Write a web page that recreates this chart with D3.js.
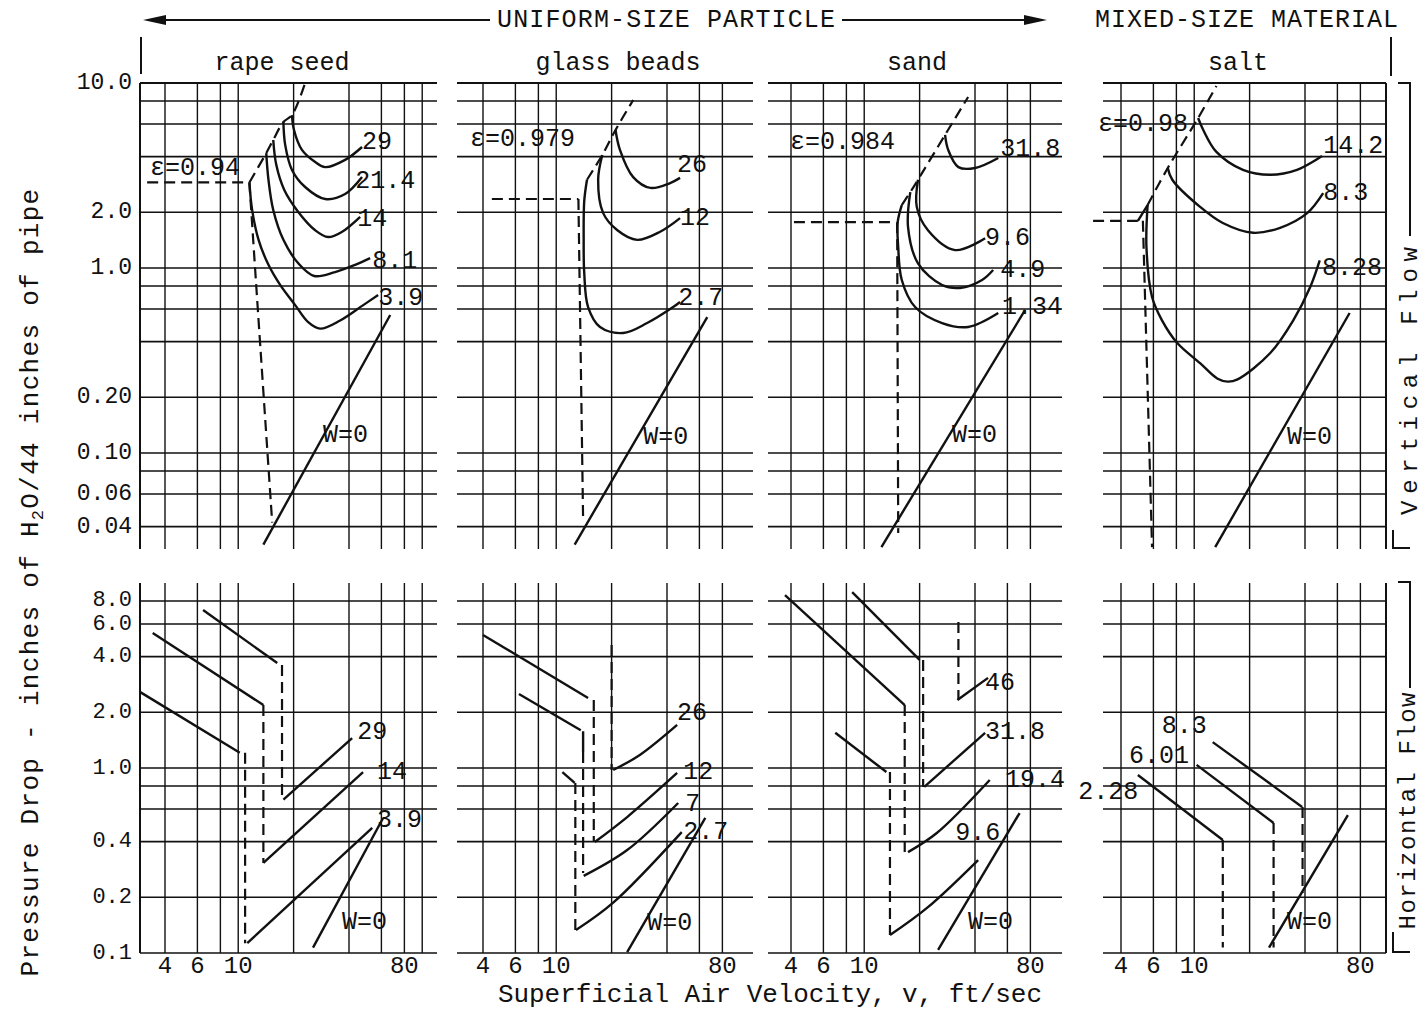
<!DOCTYPE html>
<html><head><meta charset="utf-8">
<script src="https://cdn.jsdelivr.net/npm/d3@7/dist/d3.min.js"></script>
<style>
html,body{margin:0;padding:0;background:#fff;}
svg text{font-family:"Liberation Mono","DejaVu Sans Mono",monospace;fill:#111;}
</style></head>
<body><svg id="chart" width="1424" height="1017"></svg>
<script>
// ---------------- categories & axis values ----------------
const materials = ["rape seed", "glass beads", "sand", "salt"];
const xTickValues = [4, 6, 10, 80];
const xGridValues = [4, 6, 8, 10, 20, 40, 60, 80];
const vertTickValues = [10, 2, 1, 0.2, 0.1, 0.06, 0.04];
const vertTickLabels = ["10.0", "2.0", "1.0", "0.20", "0.10", "0.06", "0.04"];
const horizTickValues = [8, 6, 4, 2, 1, 0.4, 0.2, 0.1];
const horizTickLabels = ["8.0", "6.0", "4.0", "2.0", "1.0", "0.4", "0.2", "0.1"];
const vertGridValues = [10, 8, 6, 4, 2, 1, 0.8, 0.6, 0.4, 0.2, 0.1, 0.08, 0.06, 0.04];
const horizGridValues = [8, 6, 4, 2, 1, 0.8, 0.6, 0.4, 0.2, 0.1];

// ---------------- series: [velocity ft/s, pressure drop] ----------------
// kind "loading" = solid W curve, "boundary" = dashed transition / choking line
const rapeSeedVertical = [
  {kind:"loading", w:"29",   pts:[[19.6,6.71],[20.1,5.57],[22.2,4.35],[26.2,3.74],[29.7,3.51],[38.1,3.84],[47.1,4.51]]},
  {kind:"loading", w:"21.4", pts:[[17.6,6.16],[18.0,4.63],[19.6,3.39],[23.1,2.74],[29.7,2.36],[38.1,2.51],[47.1,3.10]]},
  {kind:"loading", w:"14",   pts:[[15.5,4.92],[16.1,3.61],[17.8,2.64],[21.2,2.01],[26.2,1.60],[30.8,1.47],[36.7,1.57],[46.0,1.89]]},
  {kind:"loading", w:"8.1",  pts:[[14.2,4.18],[14.6,3.0],[15.5,2.06],[17.6,1.42],[21.2,1.06],[25.9,0.905],[33.6,0.951],[43.2,1.04],[52.1,1.13]]},
  {kind:"loading", w:"3.9",  pts:[[11.5,2.9],[11.9,2.06],[12.9,1.42],[14.6,1.04],[16.9,0.81],[20.4,0.63],[24.0,0.51],[27.9,0.47],[35.8,0.52],[47.8,0.63],[57.6,0.715]]},
  {kind:"loading", w:"0",    pts:[[13.7,0.032],[67,0.557]]},
  {kind:"boundary", pts:[[11.5,2.9],[14.2,4.18],[15.5,4.92],[17.6,6.16],[19.6,6.71],[23.1,10]]},
  {kind:"boundary", pts:[[3.2,2.9],[11.5,2.9]]},
  {kind:"boundary", pts:[[11.5,2.9],[12.5,0.83],[15.3,0.042]]}
];
const rapeSeedVerticalNotes = [
  {text:"ε=0.94", v:3.32, dp:3.47}, {text:"29", v:47.1, dp:4.79}, {text:"21.4", v:43.2, dp:2.95},
  {text:"14", v:44.3, dp:1.82}, {text:"8.1", v:53.5, dp:1.08}, {text:"3.9", v:57.6, dp:0.688},
  {text:"W=0", v:28.9, dp:0.125}
];
const rapeSeedHorizontal = [
  {kind:"loading", pts:[[2.92,2.58],[10.2,1.21]]},
  {kind:"loading", pts:[[3.43,5.37],[13.7,2.19]]},
  {kind:"loading", pts:[[6.44,7.15],[16.3,3.69]]},
  {kind:"loading", w:"3.9", pts:[[11.2,0.113],[53.5,0.474]]},
  {kind:"loading", w:"14",  pts:[[13.7,0.307],[47.7,0.951]]},
  {kind:"loading", w:"29",  pts:[[17.6,0.675],[41.6,1.45]]},
  {kind:"loading", w:"0",   pts:[[25.5,0.107],[61.3,0.537]]},
  {kind:"boundary", pts:[[10.9,1.21],[10.9,0.113]]},
  {kind:"boundary", pts:[[13.7,2.19],[13.7,0.307]]},
  {kind:"boundary", pts:[[17.3,3.6],[17.3,0.675]]}
];
const rapeSeedHorizontalNotes = [
  {text:"29", v:44.3, dp:1.55}, {text:"14", v:56.8, dp:0.951}, {text:"3.9", v:56.8, dp:0.523},
  {text:"W=0", v:36.7, dp:0.147}
];

const glassBeadsVertical = [
  {kind:"loading", w:"26",  pts:[[21.0,5.57],[22.2,4.35],[26.2,3.10],[32.5,2.71],[41.6,2.88],[47.1,3.07]]},
  {kind:"loading", w:"12",  pts:[[17.8,4.08],[16.9,3.0],[18.0,1.98],[21.5,1.60],[27.5,1.42],[36.7,1.57],[47.1,1.86]]},
  {kind:"loading", w:"2.7", pts:[[14.7,3.0],[14.2,2.3],[14.1,1.42],[14.2,0.94],[14.9,0.615],[17.3,0.48],[23.1,0.445],[31.2,0.504],[43.2,0.615],[47.1,0.655]]},
  {kind:"loading", w:"0",   pts:[[12.6,0.032],[66.2,0.543]]},
  {kind:"boundary", pts:[[14.7,3.0],[17.8,4.08],[21.0,5.57],[26.2,8.09]]},
  {kind:"boundary", pts:[[4.47,2.36],[13.2,2.36]]},
  {kind:"boundary", pts:[[13.2,2.36],[14.0,0.0436]]}
];
const glassBeadsVerticalNotes = [
  {text:"ε=0.979", v:3.40, dp:4.92}, {text:"26", v:45.4, dp:3.56}, {text:"12", v:47.1, dp:1.86},
  {text:"2.7", v:46.0, dp:0.688}, {text:"W=0", v:29.7, dp:0.122}
];
const glassBeadsHorizontal = [
  {kind:"loading", pts:[[4.0,5.24],[14.9,2.39]]},
  {kind:"loading", pts:[[6.27,2.51],[13.6,1.60]]},
  {kind:"loading", pts:[[14.0,1.58],[14.0,1.22]]},
  {kind:"loading", pts:[[10.8,0.951],[12.6,0.83]]},
  {kind:"loading", w:"26",  pts:[[20.4,0.975],[28.6,1.18],[45.4,1.71]]},
  {kind:"loading", w:"12",  pts:[[16.2,0.398],[24.3,0.543],[45.4,0.94]]},
  {kind:"loading", w:"7",   pts:[[14.1,0.261],[24.3,0.36],[46,0.647]]},
  {kind:"loading", w:"2.7", pts:[[12.8,0.133],[20.4,0.187],[48.1,0.45]]},
  {kind:"loading", w:"0",   pts:[[24.3,0.101],[64.6,0.537]]},
  {kind:"boundary", pts:[[16.0,2.33],[16.0,0.40]]},
  {kind:"boundary", pts:[[14.0,1.22],[14.0,0.271]]},
  {kind:"boundary", pts:[[12.7,0.83],[12.7,0.133]]},
  {kind:"boundary", pts:[[20,4.62],[20,0.975]]}
];
const glassBeadsHorizontalNotes = [
  {text:"26", v:45.4, dp:1.98}, {text:"12", v:49, dp:0.94}, {text:"7", v:50.2, dp:0.631},
  {text:"2.7", v:49, dp:0.45}, {text:"W=0", v:31.2, dp:0.145}
];

const sandVertical = [
  {kind:"loading", w:"31.8", pts:[[27.5,5.24],[28.6,4.35],[32.5,3.51],[40.0,3.47],[53.5,3.93]]},
  {kind:"loading", w:"9.6",  pts:[[19.6,3.0],[19.3,2.14],[22.2,1.60],[31.2,1.25],[45.4,1.45]]},
  {kind:"loading", w:"4.9",  pts:[[17.8,2.57],[17.3,1.67],[19.6,1.06],[26.5,0.809],[33.2,0.78],[43.7,0.861],[50.2,0.975]]},
  {kind:"loading", w:"1.34", pts:[[16.0,2.19],[15.2,1.77],[15.3,1.30],[16.0,0.861],[18.9,0.615],[26.5,0.504],[36.7,0.48],[53.5,0.571]]},
  {kind:"loading", w:"0",    pts:[[12.4,0.031],[74.9,0.593]]},
  {kind:"boundary", pts:[[16,2.19],[17.8,2.57],[19.6,3.0],[27.5,5.24],[36.7,8.4]]},
  {kind:"boundary", pts:[[4.15,1.77],[14.7,1.77]]},
  {kind:"boundary", pts:[[15.1,1.77],[15.3,0.037]]}
];
const sandVerticalNotes = [
  {text:"ε=0.984", v:3.95, dp:4.79}, {text:"31.8", v:54.8, dp:4.35}, {text:"9.6", v:45.4, dp:1.45},
  {text:"4.9", v:54.8, dp:0.975}, {text:"1.34", v:56.1, dp:0.608}, {text:"W=0", v:30, dp:0.125}
];
const sandHorizontal = [
  {kind:"loading", pts:[[3.71,8.61],[16.6,2.19]]},
  {kind:"loading", pts:[[8.6,8.93],[20.0,3.84]]},
  {kind:"loading", pts:[[6.96,1.55],[13.2,0.951]]},
  {kind:"loading", w:"46",   pts:[[32.1,2.33],[47.1,3.07]]},
  {kind:"loading", w:"31.8", pts:[[21.2,0.79],[45.4,1.55]]},
  {kind:"loading", w:"19.4", pts:[[17.3,0.351],[24.8,0.445],[48.1,0.861]]},
  {kind:"loading", w:"9.6",  pts:[[13.8,0.125],[22.2,0.177],[41.6,0.318]]},
  {kind:"loading", w:"0",    pts:[[25.2,0.104],[69.9,0.571]]},
  {kind:"boundary", pts:[[16.6,2.19],[16.6,0.351]]},
  {kind:"boundary", pts:[[20.9,3.84],[20.9,0.79]]},
  {kind:"boundary", pts:[[13.8,0.951],[13.8,0.125]]},
  {kind:"boundary", pts:[[32.5,6.16],[32.5,2.33]]}
];
const sandHorizontalNotes = [
  {text:"46", v:45.4, dp:2.88}, {text:"31.8", v:45.4, dp:1.55}, {text:"19.4", v:58.3, dp:0.861},
  {text:"9.6", v:31.2, dp:0.445}, {text:"W=0", v:36.7, dp:0.147}
];

const saltVertical = [
  {kind:"loading", w:"14.2", pts:[[10.5,6.47],[11.2,5.57],[13.2,4.24],[18.4,3.39],[25.9,3.19],[36.2,3.39],[49.5,4.03]]},
  {kind:"loading", w:"8.3",  pts:[[7.18,3.47],[7.6,3.0],[10.76,2.14],[14.3,1.75],[20.9,1.55],[29.3,1.65],[41.1,1.98],[50.2,2.54]]},
  {kind:"loading", w:"8.28", pts:[[5.58,2.19],[5.50,1.30],[5.90,0.697],[6.67,0.523],[8.09,0.393],[10.76,0.306],[13.4,0.252],[15.2,0.243],[17.2,0.250],[25.9,0.347],[34.6,0.523],[42.7,0.789],[48.1,1.10]]},
  {kind:"loading", pts:[[4.94,1.8],[5.58,2.19]]},
  {kind:"loading", w:"0",    pts:[[13.0,0.031],[69.9,0.571]]},
  {kind:"boundary", pts:[[5.58,2.19],[7.18,3.47],[10.5,6.47],[13.2,9.63]]},
  {kind:"boundary", pts:[[2.82,1.8],[4.94,1.8]]},
  {kind:"boundary", pts:[[5.26,1.8],[5.9,0.031]]}
];
const saltVerticalNotes = [
  {text:"ε=0.98", v:3.0, dp:5.93}, {text:"14.2", v:50.2, dp:4.51}, {text:"8.3", v:50.2, dp:2.54},
  {text:"8.28", v:49.5, dp:1.0}, {text:"W=0", v:31.9, dp:0.122}
];
const saltHorizontal = [
  {kind:"loading", w:"2.28", pts:[[4.94,0.917],[14.3,0.408]]},
  {kind:"loading", w:"6.01", pts:[[10.3,1.04],[27.0,0.504]]},
  {kind:"loading", w:"8.3",  pts:[[12.6,1.38],[38.6,0.616]]},
  {kind:"loading", w:"0",    pts:[[25.5,0.107],[68.4,0.557]]},
  {kind:"boundary", pts:[[14.3,0.408],[14.3,0.107]]},
  {kind:"boundary", pts:[[27,0.504],[27,0.107]]},
  {kind:"boundary", pts:[[38.8,0.616],[38.8,0.211]]}
];
const saltHorizontalNotes = [
  {text:"8.3", v:6.67, dp:1.67}, {text:"6.01", v:4.42, dp:1.15}, {text:"2.28", v:2.34, dp:0.733},
  {text:"W=0", v:31.9, dp:0.147}
];

// ---------------- assemble ----------------
const panelSeries = [
  {vertical:rapeSeedVertical, vNotes:rapeSeedVerticalNotes, horizontal:rapeSeedHorizontal, hNotes:rapeSeedHorizontalNotes},
  {vertical:glassBeadsVertical, vNotes:glassBeadsVerticalNotes, horizontal:glassBeadsHorizontal, hNotes:glassBeadsHorizontalNotes},
  {vertical:sandVertical, vNotes:sandVerticalNotes, horizontal:sandHorizontal, hNotes:sandHorizontalNotes},
  {vertical:saltVertical, vNotes:saltVerticalNotes, horizontal:saltHorizontal, hNotes:saltHorizontalNotes}
];

const svg = d3.select("#chart");
const ink = "#111";
const layout = [
  {x4:165,  left:-25, right:272, titleX:282,  frameLeft:true,  extraGrid:[100]},
  {x4:483,  left:-26, right:270, titleX:618},
  {x4:791,  left:-23, right:271, titleX:917},
  {x4:1121, left:-18, right:265, titleX:1238, frameRight:true}
];
const rows = {
  vertical:   {y: d3.scaleLog().domain([1,10]).range([268,83]), top:83,  bottom:549, grid:vertGridValues},
  horizontal: {y: d3.scaleLog().domain([1,10]).range([768,583]), top:583, bottom:953, grid:horizGridValues}
};
const lineGen = d3.line().curve(d3.curveCatmullRom.alpha(0.5));

layout.forEach((L, i) => {
  const xs = d3.scaleLog().domain([4,40]).range([L.x4, L.x4 + 184]);
  const x0 = L.x4 + L.left, x1 = L.x4 + L.right;
  const g = svg.append("g");
  ["vertical","horizontal"].forEach(rowKey => {
    const R = rows[rowKey];
    const gridG = g.append("g").attr("stroke", ink).attr("stroke-width", 1.6);
    gridG.selectAll(null).data(R.grid).join("line")
      .attr("x1", x0).attr("x2", x1)
      .attr("y1", d => R.y(d)).attr("y2", d => R.y(d));
    if (rowKey === "vertical") {
      gridG.append("line").attr("x1", x0).attr("x2", x1).attr("y1", R.y(10)).attr("y2", R.y(10)).attr("stroke-width", 2.2);
    }
    const vx = xGridValues.concat(L.extraGrid || []);
    gridG.selectAll(null).data(vx).join("line")
      .attr("x1", d => xs(d)).attr("x2", d => xs(d))
      .attr("y1", R.top).attr("y2", R.bottom).attr("stroke-width", 1.4);
    if (L.frameLeft) gridG.append("line").attr("x1", x0).attr("x2", x0).attr("y1", R.top).attr("y2", R.bottom).attr("stroke-width", 2);
    if (L.frameRight) gridG.append("line").attr("x1", x1).attr("x2", x1).attr("y1", R.top).attr("y2", R.bottom).attr("stroke-width", 2);

    const series = rowKey === "vertical" ? panelSeries[i].vertical : panelSeries[i].horizontal;
    g.append("g").selectAll(null).data(series).join("path")
      .attr("d", s => lineGen(s.pts.map(p => [xs(p[0]), R.y(p[1])])))
      .attr("fill", "none").attr("stroke", ink)
      .attr("stroke-width", s => s.kind === "loading" ? 2.4 : 2.2)
      .attr("stroke-dasharray", s => s.kind === "loading" ? null : "11,6")
      .attr("stroke-linecap", "butt");

    const notes = rowKey === "vertical" ? panelSeries[i].vNotes : panelSeries[i].hNotes;
    g.append("g").selectAll(null).data(notes).join("text")
      .attr("x", d => xs(d.v)).attr("y", d => R.y(d.dp))
      .attr("dominant-baseline", "central")
      .style("font-size", "25px")
      .text(d => d.text);
  });
  g.append("g").selectAll(null).data(xTickValues).join("text")
    .attr("x", d => xs(d)).attr("y", 966)
    .attr("text-anchor", "middle").attr("dominant-baseline", "central")
    .style("font-size", "24px").text(d => d);
  g.append("text").attr("x", L.titleX).attr("y", 63)
    .attr("text-anchor", "middle").attr("dominant-baseline", "central")
    .style("font-size", "25px").text(materials[i]);
});

// y tick labels
svg.append("g").selectAll(null).data(vertTickValues).join("text")
  .attr("x", 132).attr("y", d => rows.vertical.y(d))
  .attr("text-anchor", "end").attr("dominant-baseline", "central")
  .style("font-size", "23px").text((d, k) => vertTickLabels[k]);
svg.append("g").selectAll(null).data(horizTickValues).join("text")
  .attr("x", 132).attr("y", d => rows.horizontal.y(d))
  .attr("text-anchor", "end").attr("dominant-baseline", "central")
  .style("font-size", "22px").text((d, k) => horizTickLabels[k]);

// header
svg.append("text").attr("x", 497).attr("y", 20).attr("dominant-baseline", "central")
  .attr("textLength", 338).attr("lengthAdjust", "spacing")
  .style("font-size", "25px").text("UNIFORM-SIZE PARTICLE");
svg.append("text").attr("x", 1095).attr("y", 20).attr("dominant-baseline", "central")
  .attr("textLength", 303).attr("lengthAdjust", "spacing")
  .style("font-size", "25px").text("MIXED-SIZE MATERIAL");
svg.append("line").attr("x1", 158).attr("x2", 490).attr("y1", 20).attr("y2", 20).attr("stroke", ink).attr("stroke-width", 2);
svg.append("line").attr("x1", 842).attr("x2", 1032).attr("y1", 20).attr("y2", 20).attr("stroke", ink).attr("stroke-width", 2);
svg.append("path").attr("d", "M143,20 L166,15 L166,25 Z").attr("fill", ink);
svg.append("path").attr("d", "M1047,20 L1024,15 L1024,25 Z").attr("fill", ink);
svg.append("line").attr("x1", 141).attr("x2", 141).attr("y1", 37).attr("y2", 74).attr("stroke", ink).attr("stroke-width", 2);
svg.append("line").attr("x1", 1391).attr("x2", 1391).attr("y1", 37).attr("y2", 76).attr("stroke", ink).attr("stroke-width", 2);

// x axis title
svg.append("text").attr("x", 498).attr("y", 995).attr("dominant-baseline", "central")
  .attr("textLength", 544).attr("lengthAdjust", "spacing")
  .style("font-size", "26px").text("Superficial Air Velocity, v, ft/sec");

// y axis title
const yt = svg.append("text").attr("transform", "translate(31,582) rotate(-90)")
  .attr("text-anchor", "middle").attr("dominant-baseline", "central")
  .style("font-size", "26px").style("letter-spacing", "1.3px");
yt.append("tspan").text("Pressure Drop - inches of H");
yt.append("tspan").attr("dy", 7).style("font-size", "17px").text("2");
yt.append("tspan").attr("dy", -7).text("O/44 inches of pipe");

// right-hand brackets
const br = svg.append("g").attr("fill", "none").attr("stroke", ink).attr("stroke-width", 2);
br.append("path").attr("d", "M1398,83 H1410 V236");
br.append("path").attr("d", "M1393,530 V548 H1410");
br.append("path").attr("d", "M1398,582 H1410 V688");
br.append("path").attr("d", "M1393,932 V952 H1410");
svg.append("text").attr("transform", "translate(1410,381) rotate(-90)")
  .attr("text-anchor", "middle").attr("dominant-baseline", "central")
  .attr("textLength", 268).attr("lengthAdjust", "spacing")
  .style("font-size", "24px").text("Vertical Flow");
svg.append("text").attr("transform", "translate(1408,811) rotate(-90)")
  .attr("text-anchor", "middle").attr("dominant-baseline", "central")
  .attr("textLength", 237).attr("lengthAdjust", "spacing")
  .style("font-size", "24px").text("Horizontal Flow");
</script></body></html>
